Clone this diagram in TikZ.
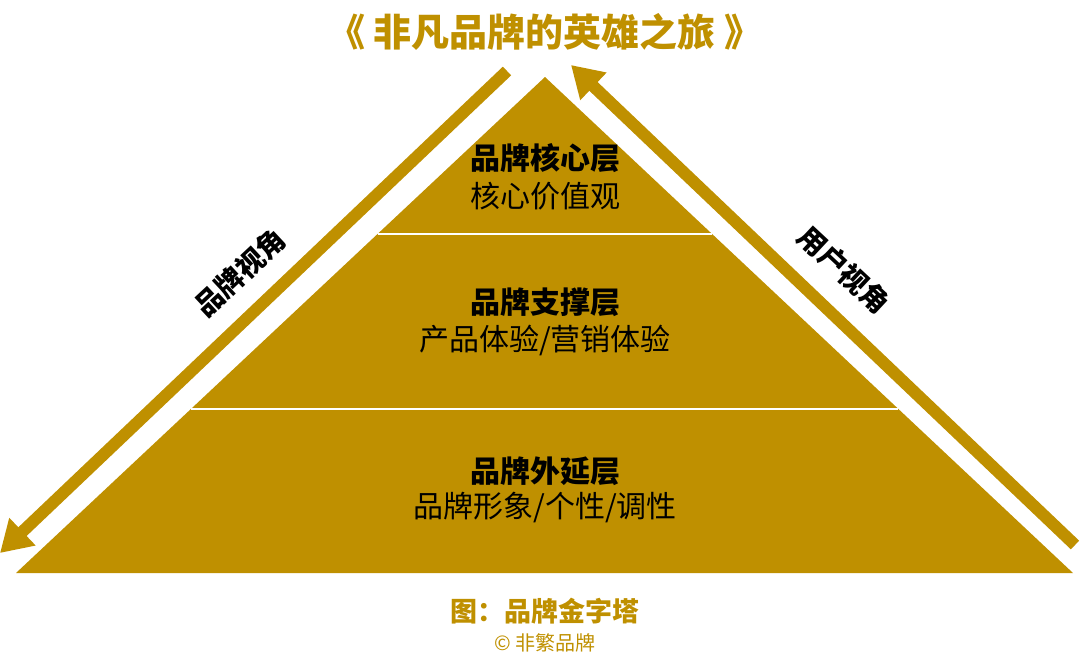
\documentclass[tikz,border=0pt]{standalone}
\usepackage{fontspec}
\setmainfont{Noto Sans CJK SC}
\usepackage{xcolor}
\usepackage{tikz}
\usetikzlibrary{arrows.meta,positioning,calc}

\definecolor{pyrgold}{HTML}{BF9000}

\begin{document}
\begin{tikzpicture}[x=1pt,y=-1pt,
    layertitle/.style={font=\fontsize{30}{30}\selectfont\bfseries, text=black, inner sep=0pt},
    layertext/.style={font=\fontsize{30}{30}\selectfont, text=black, inner sep=0pt},
    viewlabel/.style={font=\fontsize{28}{28}\selectfont\bfseries, text=black, inner sep=0pt},
    sidearrow/.style={pyrgold, line width=12pt, -{Triangle[length=31pt,width=36pt]}},
    divider/.style={white, line width=2pt}]

        \useasboundingbox (0,0) rectangle (1080,665);

        % Title
        \node[font=\fontsize{38}{38}\selectfont\bfseries, text=pyrgold, inner sep=0pt] (title) at (545,32) {《\hspace{9pt}非凡品牌的英雄之旅\hspace{9pt}》};

        % Pyramid
        \coordinate (apex) at (545,77);
        \coordinate (bl) at (16,573);
        \coordinate (br) at (1073,573);
        \fill[pyrgold] (apex) -- (br) -- (bl) -- cycle;

        % Layer borders
        \draw[divider] ($(apex)!0.3165!(bl)$) -- ($(apex)!0.3165!(br)$);
        \draw[divider] ($(apex)!0.6694!(bl)$) -- ($(apex)!0.6694!(br)$);

        % Layers
        \node[layertitle] (core) at (545,158) {品牌核心层};
        \node[layertext] (coretxt) at (545,196) {核心价值观};
        \node[layertitle] (support) at (545,302) {品牌支撑层};
        \node[layertext] (supporttxt) at (545,340) {产品体验/营销体验};
        \node[layertitle] (outer) at (545,471) {品牌外延层};
        \node[layertext] (outertxt) at (545,508) {品牌形象/个性/调性};

        % Brand view (down the left side)
        \coordinate (brandtop) at (507,71);
        \coordinate (brandtip) at (0,553);
        \draw[sidearrow] (brandtop) -- (brandtip);
        \node[viewlabel, rotate=43] (brandview) at (240,273) {品牌视角};

        % User view (up the right side)
        \coordinate (userfoot) at (1075,545);
        \coordinate (usertip) at (571,65);
        \draw[sidearrow] (userfoot) -- (usertip);
        \node[viewlabel, rotate=-43] (userview) at (844,270) {用户视角};

        % Caption
        \node[font=\fontsize{27}{27}\selectfont\bfseries, text=pyrgold, inner sep=0pt] (caption) at (545,611) {图：品牌金字塔};
        \node[font=\fontsize{20}{20}\selectfont, text=pyrgold, inner sep=0pt] (credit) at (545,643) {© 非繁品牌};
      \end{tikzpicture}
\end{document}
